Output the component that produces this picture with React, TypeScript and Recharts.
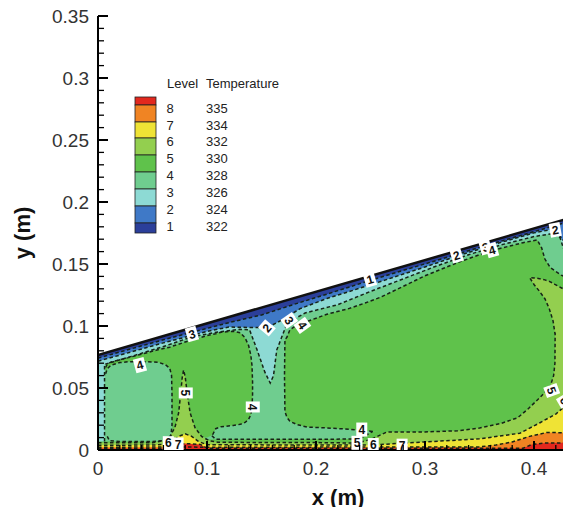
import { ComposedChart, Area, Line, Scatter, XAxis, YAxis, Legend, Label } from 'recharts';

// colour of each temperature band, coldest first
const C = {
  darkBlue: '#2b3f9a',
  blue: '#3f79c7',
  cyan: '#8ddad4',
  mint: '#6fcd8f',
  green: '#5fc24b',
  lightGreen: '#93cf4f',
  yellow: '#efe335',
  orange: '#f08423',
  red: '#e2281e',
};

// legend table
const legendLevels = [8, 7, 6, 5, 4, 3, 2, 1];
const legendTemps = [335, 334, 332, 330, 328, 326, 324, 322];
const legendColors = [C.red, C.orange, C.yellow, C.lightGreen, C.green, C.mint, C.cyan, C.blue, C.darkBlue];

// axis ticks
const xTicks = [0, 0.02, 0.04, 0.06, 0.08, 0.1, 0.12, 0.14, 0.16, 0.18, 0.2, 0.22, 0.24, 0.26, 0.28, 0.3, 0.32, 0.34, 0.36, 0.38, 0.4, 0.42, 0.44];
const xMajor = [0, 0.1, 0.2, 0.3, 0.4];
const yTicks = [0, 0.01, 0.02, 0.03, 0.04, 0.05, 0.06, 0.07, 0.08, 0.09, 0.1, 0.11, 0.12, 0.13, 0.14, 0.15, 0.16, 0.17, 0.18, 0.19, 0.2, 0.21, 0.22, 0.23, 0.24, 0.25, 0.26, 0.27, 0.28, 0.29, 0.3, 0.31, 0.32, 0.33, 0.34, 0.35];
const yMajor = [0, 0.05, 0.1, 0.15, 0.2, 0.25, 0.3, 0.35];

// inclined upper wall [x, y]
const cavity: [number, number][] = [[0, 0.0766], [0.45, 0.1914]];

// band tops [x, y] under the wall
const blueTop: [number, number][] = [[0, 0.0741], [0.06, 0.0889], [0.12, 0.1027], [0.15, 0.1089], [0.18, 0.1175], [0.21, 0.1257], [0.25, 0.1369], [0.3, 0.1501], [0.35, 0.1634], [0.4, 0.1761], [0.45, 0.1889]];
const cyanTop: [number, number][] = [[0, 0.0716], [0.06, 0.0864], [0.1, 0.0956], [0.12, 0.0992], [0.14, 0.0988], [0.155, 0.0986], [0.17, 0.1054], [0.185, 0.1138], [0.21, 0.1222], [0.25, 0.1332], [0.3, 0.1476], [0.33, 0.1566], [0.37, 0.1675], [0.4, 0.1751], [0.418, 0.1782], [0.422, 0.1752], [0.426, 0.1692], [0.45, 0.1724]];
const mintTop: [number, number][] = [[0.006, 0.0691], [0.03, 0.0753], [0.06, 0.0834], [0.086, 0.0912], [0.11, 0.0952], [0.13, 0.0973], [0.139, 0.097], [0.146, 0.0806], [0.153, 0.063], [0.158, 0.054], [0.161, 0.06], [0.164, 0.0806], [0.1735, 0.1024], [0.19, 0.1105], [0.22, 0.1172], [0.25, 0.1279], [0.28, 0.138], [0.31, 0.1482], [0.34, 0.1575], [0.37, 0.1655], [0.4, 0.1721], [0.418, 0.1747], [0.424, 0.171], [0.428, 0.16], [0.432, 0.143], [0.45, 0.137]];

// level-4 cells [x, low, high]
const leftCell: [number, number, number][] = [[0.007, 0.0615, 0.0665], [0.0085, 0.0655, 0.0692], [0.012, 0.0685, 0.071], [0.02, 0.0705, 0.0728], [0.028, 0.0712, 0.0745], [0.045, 0.0712, 0.0785], [0.055, 0.0708, 0.0808], [0.0615, 0.069, 0.0821], [0.0658, 0.066, 0.0829], [0.0675, 0.06, 0.0835], [0.0683, 0.012, 0.0837], [0.085, 0.01, 0.0885], [0.1, 0.01, 0.0922], [0.105, 0.012, 0.0932], [0.108, 0.0172, 0.0937], [0.113, 0.0188, 0.095], [0.124, 0.0198, 0.0958], [0.1305, 0.0207, 0.0945], [0.1349, 0.0222, 0.0905], [0.1382, 0.0248, 0.0842], [0.1402, 0.0285, 0.0765], [0.1413, 0.034, 0.068], [0.1418, 0.045, 0.055]];
const rightCell: [number, number, number][] = [[0.1711, 0.06, 0.06], [0.1715, 0.031, 0.0887], [0.1734, 0.0262, 0.0911], [0.176, 0.0232, 0.0968], [0.1826, 0.0205, 0.1008], [0.1917, 0.0185, 0.1036], [0.21, 0.0178, 0.1095], [0.23, 0.0168, 0.114], [0.245, 0.0155, 0.1185], [0.26, 0.0145, 0.1235], [0.28, 0.0145, 0.132], [0.3, 0.0145, 0.1405], [0.33, 0.0145, 0.1512], [0.36, 0.0145, 0.1606], [0.39, 0.0145, 0.1672], [0.403, 0.0145, 0.1694], [0.407, 0.0145, 0.163], [0.41, 0.0145, 0.154], [0.415, 0.0145, 0.147], [0.425, 0.0145, 0.141], [0.45, 0.0145, 0.132]];
// lower edge of the left bubble
const bubbleFoot: [number, number][] = [[0.0679, 0.045], [0.0679, 0.02], [0.0668, 0.011], [0.062, 0.0078], [0.05, 0.0069], [0.02, 0.0069], [0.0105, 0.0075], [0.0085, 0.011]];

// heated floor layers [x, top]
const floorGreen: [number, number][] = [[0, 0.0068], [0.065, 0.0068], [0.1, 0.0085], [0.24, 0.0088], [0.247, 0.0125], [0.252, 0.015], [0.45, 0.015]];
const floorLight: [number, number][] = [[0, 0.0058], [0.05, 0.0058], [0.11, 0.0062], [0.2, 0.006], [0.238, 0.0056], [0.25, 0.0085], [0.265, 0.0145], [0.3, 0.0146], [0.33, 0.0155], [0.35, 0.0177], [0.37, 0.0215], [0.385, 0.026], [0.395, 0.0335], [0.405, 0.042], [0.4147, 0.0508], [0.418, 0.06], [0.4192, 0.07], [0.4194, 0.094], [0.45, 0.094]];
const plume: [number, number][] = [[0.05, 0.0058], [0.06, 0.0075], [0.066, 0.011], [0.0705, 0.018], [0.074, 0.03], [0.0758, 0.045], [0.0772, 0.058], [0.0785, 0.0645], [0.08, 0.059], [0.0818, 0.046], [0.0845, 0.03], [0.089, 0.018], [0.095, 0.011], [0.102, 0.0075], [0.11, 0.0062]];
const cornerLobe: [number, number, number][] = [[0.396, 0.139, 0.139], [0.4, 0.1335, 0.1388], [0.405, 0.128, 0.1382], [0.41, 0.122, 0.1372], [0.414, 0.114, 0.136], [0.4175, 0.104, 0.1345], [0.4192, 0.094, 0.1335], [0.434, 0.09, 0.1266], [0.45, 0.09, 0.121]];
const yellowTop: [number, number][] = [[0, 0.0038], [0.05, 0.004], [0.062, 0.0045], [0.068, 0.007], [0.074, 0.011], [0.08, 0.013], [0.086, 0.011], [0.092, 0.007], [0.1, 0.0042], [0.25, 0.004], [0.3, 0.0065], [0.35, 0.009], [0.387, 0.0135], [0.4055, 0.022], [0.42, 0.029], [0.432, 0.038], [0.45, 0.047]];
const orangeTop: [number, number][] = [[0, 0.0022], [0.07, 0.0025], [0.1, 0.0022], [0.35, 0.0025], [0.365, 0.004], [0.38, 0.0065], [0.396, 0.011], [0.412, 0.0142], [0.43, 0.0138], [0.45, 0.013]];
const redTop: [number, number][] = [[0, 0.0012], [0.066, 0.0012], [0.071, 0.004], [0.08, 0.0052], [0.094, 0.0045], [0.1, 0.0014], [0.39, 0.0014], [0.398, 0.0045], [0.41, 0.0056], [0.45, 0.006]];

// contour level tags [x, y, text, angle]
const tags: [number, number, string, number][] = [
  [0.2495, 0.1375, '1', -16], [0.329, 0.157, '2', -16], [0.3555, 0.1635, '3', -16], [0.3615, 0.1612, '4', -16],
  [0.4195, 0.1775, '2', -10], [0.0862, 0.0935, '3', -16], [0.155, 0.0985, '2', -50], [0.1755, 0.1045, '3', 55],
  [0.1875, 0.1005, '4', 55], [0.0385, 0.0685, '4', -15], [0.0805, 0.046, '5', 90], [0.142, 0.0347, '4', 90],
  [0.4163, 0.048, '5', 70], [0.4282, 0.04, '6', 60], [0.242, 0.0165, '4', 0], [0.2376, 0.0058, '5', 0],
  [0.2525, 0.004, '6', 0], [0.0645, 0.0055, '6', 0], [0.0735, 0.0045, '7', 0], [0.279, 0.0035, '7', 0],
];

const band = (pts: [number, number][]) => pts.map(([x, h]) => ({ x, r: [0, h] }));
const zone = (pts: [number, number, number][]) => pts.map(([x, lo, hi]) => ({ x, r: [lo, hi] }));
const path = (pts: [number, number][]) => pts.map(([x, y]) => ({ x, y }));
const tops = (pts: [number, number, number][]) => pts.map(([x, , hi]) => [x, hi] as [number, number]);
const lows = (pts: [number, number, number][]) => pts.map(([x, lo]) => [x, lo] as [number, number]);

const fills = [
  { id: 'l0', data: band(cavity), fill: C.darkBlue },
  { id: 'l1', data: band(blueTop), fill: C.blue },
  { id: 'l2', data: band(cyanTop), fill: C.cyan },
  { id: 'l3', data: band(mintTop), fill: C.mint },
  { id: 'cellL', data: zone(leftCell), fill: C.green },
  { id: 'cellR', data: zone(rightCell), fill: C.green },
  { id: 'f4', data: band(floorGreen), fill: C.green },
  { id: 'f5', data: band(floorLight), fill: C.lightGreen },
  { id: 'plume', data: band(plume), fill: C.lightGreen },
  { id: 'lobe', data: zone(cornerLobe), fill: C.lightGreen },
  { id: 'f6', data: band(yellowTop), fill: C.yellow },
  { id: 'f7', data: band(orangeTop), fill: C.orange },
  { id: 'f8', data: band(redTop), fill: C.red },
];

const contours = [
  blueTop,
  cyanTop,
  [[0.006, 0.0068], ...mintTop] as [number, number][],
  [...tops(leftCell), ...lows(leftCell).filter(([x]) => x >= 0.105).reverse()],
  [...lows(leftCell).filter(([x]) => x <= 0.0675), ...bubbleFoot],
  [[0.252, 0.015], ...lows(rightCell).filter(([x]) => x <= 0.245).reverse(), ...tops(rightCell)] as [number, number][],
  [[0.1045, 0.0115], [0.108, 0.0086], ...floorGreen.filter(([x]) => x >= 0.24 && x <= 0.252)] as [number, number][],
  [
    ...floorLight.filter(([x]) => x < 0.05),
    ...plume,
    ...floorLight.filter(([x]) => x > 0.11 && x <= 0.4194),
    ...lows(cornerLobe).filter(([x]) => x <= 0.4192).reverse(),
    ...tops(cornerLobe).slice(1),
  ],
  yellowTop,
  orangeTop,
  redTop,
];

const FONT = "'Liberation Sans', Arial, sans-serif";
const label = (v: number) => String(Number(v.toFixed(2)));

const XTick = (props: any) => {
  const { x, y, payload } = props;
  const major = xMajor.includes(payload.value);
  return (
    <g>
      <line x1={x} x2={x} y1={y} y2={y - (major ? 9 : 5)} stroke="#000" strokeWidth={major ? 2 : 1.3} />
      {major && (
        <text x={x} y={y + 25} textAnchor="middle" fontSize={19} fontFamily={FONT} fill="#333">
          {label(payload.value)}
        </text>
      )}
    </g>
  );
};

const YTick = (props: any) => {
  const { x, y, payload } = props;
  const major = yMajor.includes(payload.value);
  return (
    <g>
      <line x1={x} x2={x + (major ? 10 : 6)} y1={y} y2={y} stroke="#000" strokeWidth={major ? 2 : 1.3} />
      {major && (
        <text x={x - 9} y={y + 7} textAnchor="end" fontSize={19} fontFamily={FONT} fill="#333">
          {label(payload.value)}
        </text>
      )}
    </g>
  );
};

const Tag = (props: any) => {
  const { cx, cy, payload } = props;
  return (
    <g transform={`translate(${cx},${cy}) rotate(${payload.a})`}>
      <rect x={-5.5} y={-7} width={11} height={14} fill="#fff" />
      <text x={0} y={4.3} textAnchor="middle" fontSize={12} fontWeight="bold" fontFamily={FONT} fill="#111">
        {payload.t}
      </text>
    </g>
  );
};

// level / temperature key drawn in the upper left of the plot
const LevelKey = () => {
  const edges = [27, 35, 52, 68, 85, 102, 119, 136, 153, 163];
  const txt = { fontSize: 13, fontFamily: FONT, fill: '#222' };
  return (
    <svg width={180} height={170} style={{ display: 'block' }}>
      <text x={39} y={18} {...txt}>Level</text>
      <text x={78} y={18} {...txt}>Temperature</text>
      {legendColors.map((c, i) => (
        <rect key={c} x={7} y={edges[i]} width={21} height={edges[i + 1] - edges[i]} fill={c} stroke="#222" strokeWidth={0.8} />
      ))}
      {legendLevels.map((lv, i) => (
        <g key={lv}>
          <text x={42} y={edges[i + 1] + 7.5} textAnchor="middle" {...txt}>{lv}</text>
          <text x={78} y={edges[i + 1] + 7.5} {...txt}>{legendTemps[i]}</text>
        </g>
      ))}
    </svg>
  );
};

export default function App() {
  return (
    <div style={{ width: 563, height: 515, marginTop: -8, marginBottom: -8, overflow: 'hidden', position: 'relative' }}>
      <ComposedChart width={600} height={515} margin={{ top: 16, right: 19.5, left: 0, bottom: 0 }}>
        <XAxis
          type="number"
          dataKey="x"
          domain={[0, 0.45]}
          ticks={xTicks}
          interval={0}
          allowDataOverflow
          height={65}
          axisLine={{ stroke: '#000', strokeWidth: 2 }}
          tickLine={false}
          tickSize={0}
          tickMargin={0}
          tick={<XTick />}
        >
          <Label
            content={() => (
              <text x={330} y={497} textAnchor="middle" dominantBaseline="central" fontSize={22} fontWeight="bold" fontFamily={FONT} fill="#111">
                x (m)
              </text>
            )}
          />
        </XAxis>
        <YAxis
          type="number"
          domain={[0, 0.35]}
          ticks={yTicks}
          interval={0}
          allowDataOverflow
          width={90}
          axisLine={{ stroke: '#000', strokeWidth: 2 }}
          tickLine={false}
          tickSize={0}
          tickMargin={0}
          tick={<YTick />}
        >
          <Label
            content={() => (
              <text x={14} y={233} transform="rotate(-90 14 233)" textAnchor="middle" dominantBaseline="central" fontSize={22} fontWeight="bold" fontFamily={FONT} fill="#111">
                y (m)
              </text>
            )}
          />
        </YAxis>
        <Legend
          layout="horizontal"
          verticalAlign="middle"
          align="center"
          wrapperStyle={{ left: 120, top: 70, width: 180, height: 170 }}
          content={() => <LevelKey />}
        />
        {fills.map((f) => (
          <Area
            key={f.id}
            data={f.data}
            dataKey="r"
            type="linear"
            fill={f.fill}
            fillOpacity={1}
            stroke="none"
            dot={false}
            activeDot={false}
            isAnimationActive={false}
          />
        ))}
        {contours.map((pts, i) => (
          <Line
            key={`c${i}`}
            data={path(pts)}
            dataKey="y"
            type="linear"
            stroke="#172317"
            strokeWidth={1.5}
            strokeDasharray="3.5 2.5"
            dot={false}
            activeDot={false}
            isAnimationActive={false}
          />
        ))}
        <Line
          data={path(cavity)}
          dataKey="y"
          type="linear"
          stroke="#111"
          strokeWidth={2.5}
          dot={false}
          activeDot={false}
          isAnimationActive={false}
        />
        <Scatter
          data={tags.map(([x, y, t, a]) => ({ x, y, t, a }))}
          dataKey="y"
          shape={(p: any) => <Tag {...p} />}
          isAnimationActive={false}
        />
      </ComposedChart>
    </div>
  );
}
